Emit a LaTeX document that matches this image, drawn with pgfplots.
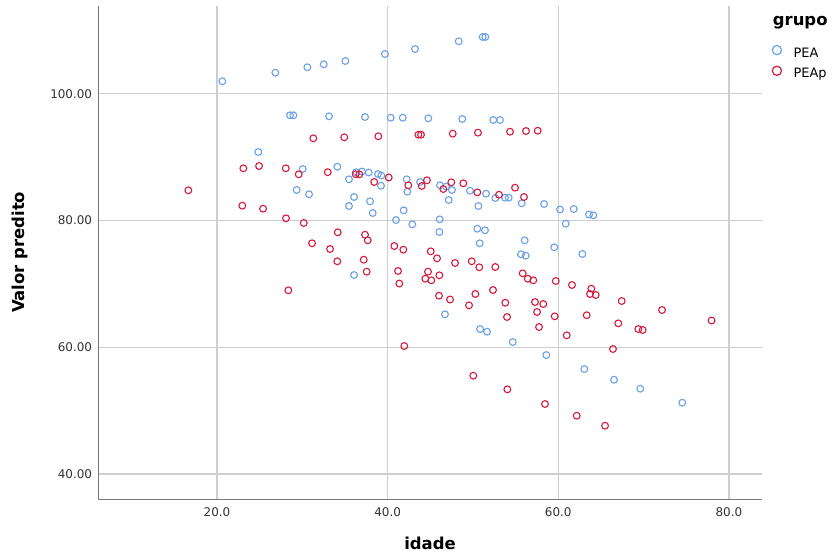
\documentclass[border=0pt]{standalone}
\usepackage{fontspec}
\setmainfont{DejaVu Sans}
\usepackage{pgfplots}
\pgfplotsset{compat=1.18}
\definecolor{pea}{RGB}{105,160,232}
\definecolor{peap}{RGB}{215,25,60}
\definecolor{gridc}{RGB}{206,206,206}
\definecolor{axc}{RGB}{120,120,120}
\begin{document}
\begin{tikzpicture}
\useasboundingbox (-98.3bp,-56bp) rectangle (734.7bp,499bp);
\begin{axis}[
  at={(0,0)}, anchor=south west,
  scale only axis, width=663.4bp, height=493.3bp,
  xmin=6.09, xmax=83.84, ymin=36.06, ymax=113.88,
  axis lines*=left,
  axis line style={draw=axc, line width=1bp},
  grid=major,
  major grid style={draw=gridc, line width=1.3bp},
  xtick={20,40,60,80}, ytick={40,60,80,100},
  xticklabels={20.0,40.0,60.0,80.0},
  yticklabels={40.00,60.00,80.00,100.00},
  major tick length=0pt,
  tick label style={font=\fontsize{12}{14}\selectfont, text=black!80, inner sep=0pt},
  xticklabel style={anchor=north, yshift=-8bp},
  yticklabel style={anchor=east, xshift=-6bp},
  xlabel={idade}, ylabel={Valor predito},
  label style={font=\bfseries\fontsize{16.5}{19}\selectfont},
  xlabel style={at={(axis description cs:0.5,-0.0892)}, anchor=center},
  ylabel style={at={(axis description cs:-0.118,0.5)}, anchor=center},
  legend style={at={(axis description cs:1,1)}, anchor=north west,
    xshift=9.8bp, yshift=-39bp, draw=none, fill=none, inner sep=0pt,
    font=\fontsize{13}{15}\selectfont, row sep=6bp, column sep=11.5bp,
    nodes={inner sep=0pt, text height=9.5bp, text depth=2.5bp}},
  legend cell align=left,
  legend image code/.code={\draw[#1, line width=1.2bp] (0bp,3.5bp) circle[radius=4.6bp];},
]
\addplot[only marks, mark=o, mark size=3.4bp, color=pea, mark options={line width=1.1bp}] table {
x y
20.63 101.96
26.84 103.31
30.59 104.17
32.51 104.64
35.04 105.16
39.69 106.26
43.21 107.05
48.33 108.27
51.14 108.95
51.45 108.95
28.56 96.59
28.95 96.59
33.13 96.43
37.35 96.32
40.36 96.21
41.77 96.21
44.77 96.12
48.75 96.01
52.38 95.85
53.17 95.85
24.84 90.80
30.05 88.12
34.10 88.48
35.47 86.49
36.29 87.60
37.00 87.72
37.78 87.57
38.87 87.33
39.26 87.09
39.22 85.48
29.34 84.81
30.79 84.13
36.06 83.70
37.94 83.02
35.47 82.28
38.25 81.18
40.98 80.07
42.24 86.49
42.31 84.54
43.80 86.07
46.14 85.55
46.84 85.33
47.54 84.81
49.65 84.70
51.53 84.22
52.62 83.54
53.76 83.59
54.19 83.59
55.71 82.71
47.16 83.23
50.63 82.28
58.33 82.60
60.20 81.73
61.81 81.81
63.60 80.94
64.10 80.81
60.87 79.49
41.88 81.60
42.89 79.39
46.10 80.18
46.06 78.18
50.51 78.70
51.41 78.45
50.79 76.40
56.06 76.87
59.53 75.77
55.63 74.66
56.18 74.44
62.82 74.71
36.06 71.39
46.72 65.19
50.83 62.87
51.65 62.45
54.66 60.82
58.60 58.77
63.05 56.56
66.53 54.88
69.61 53.46
74.53 51.25
};
\addlegendentry{PEA}
\addplot[only marks, mark=o, mark size=3.4bp, color=peap, mark options={line width=1.1bp}] table {
x y
16.64 84.76
23.09 88.23
24.93 88.59
28.06 88.23
29.58 87.28
32.98 87.61
36.26 87.30
36.68 87.28
38.43 86.07
40.13 86.78
31.29 92.96
34.92 93.12
38.91 93.28
43.60 93.53
43.91 93.53
47.63 93.69
50.59 93.85
54.34 94.00
56.22 94.11
57.59 94.16
22.97 82.33
25.40 81.86
28.09 80.34
30.17 79.60
34.15 78.13
37.35 77.75
37.67 76.87
31.14 76.40
33.25 75.50
40.78 75.97
34.10 73.56
37.20 73.81
37.55 71.92
41.22 72.03
41.37 70.05
28.36 68.98
42.42 85.55
43.99 85.44
44.61 86.34
46.53 84.96
47.46 86.02
48.87 85.86
50.51 84.44
53.05 84.06
54.93 85.17
55.98 83.70
41.84 75.39
45.05 75.13
45.79 74.03
47.90 73.29
49.85 73.56
50.74 72.61
52.62 72.66
44.73 71.92
44.42 70.81
45.12 70.56
46.06 71.35
55.83 71.66
56.42 70.81
57.07 70.56
59.70 70.45
61.61 69.82
63.87 69.23
63.72 68.40
64.39 68.24
67.43 67.29
46.02 68.13
47.31 67.53
50.28 68.40
49.54 66.61
52.35 69.03
53.79 67.02
57.27 67.13
58.24 66.82
57.51 65.56
53.99 64.77
59.58 64.88
63.33 65.05
72.16 65.87
77.96 64.22
67.03 63.77
57.74 63.19
60.99 61.88
69.38 62.87
69.89 62.72
41.95 60.19
66.41 59.72
50.04 55.51
54.03 53.36
58.44 51.04
62.16 49.20
65.48 47.62
};
\addlegendentry{PEAp}
\end{axis}
\node[anchor=west, inner sep=0pt, font=\bfseries\fontsize{16.5}{19}\selectfont] at (674.4bp,476bp) {grupo};
\end{tikzpicture}
\end{document}
